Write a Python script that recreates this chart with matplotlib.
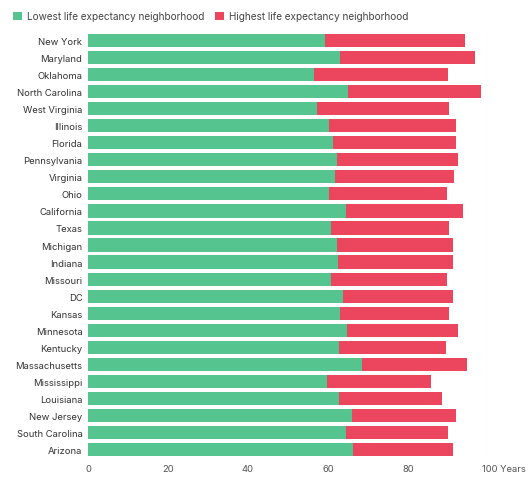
import matplotlib.pyplot as plt
import matplotlib.transforms as mtransforms

states = ['New York', 'Maryland', 'Oklahoma', 'North Carolina', 'West Virginia',
          'Illinois', 'Florida', 'Pennsylvania', 'Virginia', 'Ohio', 'California',
          'Texas', 'Michigan', 'Indiana', 'Missouri', 'DC', 'Kansas', 'Minnesota',
          'Kentucky', 'Massachusetts', 'Mississippi', 'Louisiana', 'New Jersey',
          'South Carolina', 'Arizona']
lowest = [59.2, 62.9, 56.5, 65.0, 57.2, 60.3, 61.3, 62.2, 61.7, 60.3, 64.4,
          60.8, 62.3, 62.6, 60.8, 63.8, 62.9, 64.8, 62.8, 68.6, 59.8, 62.8,
          66.1, 64.6, 66.3]
highest = [94.2, 96.7, 90.0, 98.2, 90.2, 92.1, 92.1, 92.6, 91.6, 89.8, 93.8,
           90.2, 91.3, 91.3, 89.8, 91.3, 90.3, 92.4, 89.4, 94.7, 85.8, 88.6,
           92.1, 90.1, 91.3]
xticks = [0, 20, 40, 60, 80, 100]
xtick_labels = ['0', '20', '40', '60', '80', '100 Years']

green = '#55c48f'
red = '#ec465e'

plt.rcParams['font.family'] = ['Inter', 'DejaVu Sans']

fig = plt.figure(figsize=(5.29, 4.81), dpi=100)
ax = fig.add_axes([88 / 529, 0.045, 400 / 529, 0.887])

y = list(range(len(states)))
ax.barh(y, highest, height=0.78, color=red, label='Highest life expectancy neighborhood', zorder=2)
ax.barh(y, lowest, height=0.78, color=green, label='Lowest life expectancy neighborhood', zorder=3)
ax.axvline(100, color='#eeeeee', lw=0.8, zorder=1)

ax.set_ylim(len(states) - 0.5, -0.5)
ax.set_xlim(0, 100)
ax.set_yticks(y)
ax.set_yticklabels(states, fontsize=6.8, color='#333333')
ax.set_xticks(xticks)
ax.set_xticklabels(xtick_labels, fontsize=6.8, color='#555555')
ax.tick_params(length=0, pad=4)
# last label ("100 Years") starts just left of the 100 mark
last = ax.get_xticklabels()[-1]
last.set_ha('left')
last.set_transform(last.get_transform() + mtransforms.ScaledTranslation(-6 / 100, 0, fig.dpi_scale_trans))
for s in ax.spines.values():
    s.set_visible(False)

h, l = ax.get_legend_handles_labels()
fig.legend(h[::-1], l[::-1], loc='upper left', bbox_to_anchor=(0.008, 0.993), ncol=2,
           frameon=False, fontsize=7.2, handlelength=0.9, handleheight=0.9,
           handletextpad=0.5, columnspacing=1.0, labelcolor='#444444')

fig.savefig('out.png', dpi=100)
